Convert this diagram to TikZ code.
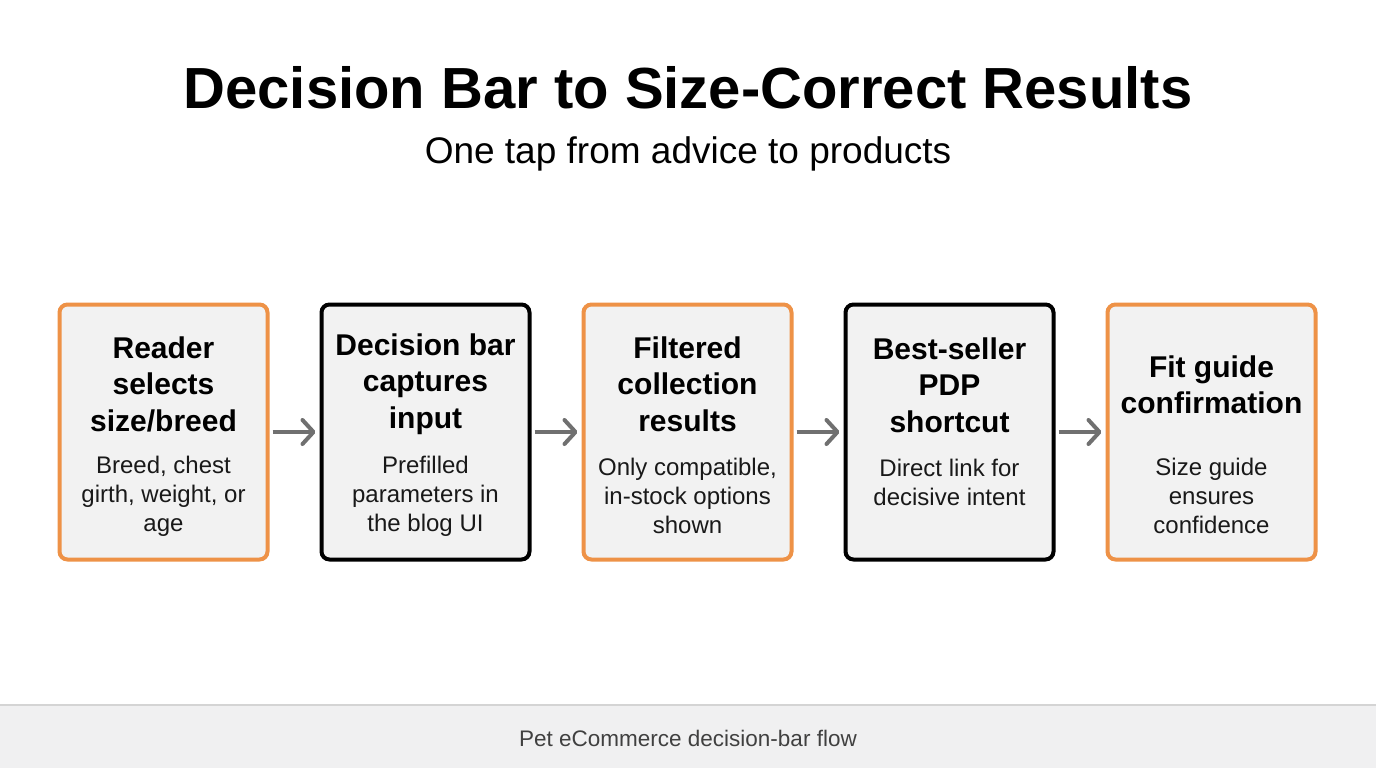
\documentclass[tikz,border=0pt]{standalone}
\usepackage{fontspec}
\setmainfont{Liberation Sans}
\usetikzlibrary{arrows.meta}
\definecolor{orng}{HTML}{EE9247}
\definecolor{boxfill}{HTML}{F2F2F2}
\definecolor{arr}{HTML}{707070}
\definecolor{foot}{HTML}{F0F0F1}
\definecolor{footline}{HTML}{D4D4D4}
\begin{document}
\begin{tikzpicture}[x=1pt,y=-1pt,
  card/.style={draw, line width=4pt, rounded corners=8pt, fill=boxfill, minimum width=208pt, minimum height=255pt, inner sep=0pt},
  orangecard/.style={card, draw=orng},
  blackcard/.style={card, draw=black},
  ttl/.style={font=\fontsize{30}{36.5}\selectfont\bfseries, align=center, inner sep=0pt},
  bdy/.style={font=\fontsize{24}{29}\selectfont, align=center, inner sep=0pt, text=black!90},
  flow/.style={draw=arr, line width=4pt, -{Straight Barb[length=11pt,width=24pt,line cap=round,round]}, shorten <=3pt, shorten >=4pt}
]
\useasboundingbox (0,0) rectangle (1376,768);
\fill[white] (0,0) rectangle (1376,768);
% footer
\fill[foot] (0,705) rectangle (1376,768);
\draw[footline, line width=1.2pt] (0,705) -- (1376,705);
\node[font=\fontsize{22.5}{26}\selectfont, text=black!75] (footer) at (688,738) {Pet eCommerce decision-bar flow};
% title
\node[font=\fontsize{58}{64}\selectfont\bfseries] (title) at (688,88) {Decision Bar to Size-Correct Results};
\node[font=\fontsize{37}{42}\selectfont] (subtitle) at (688,154) {One tap from advice to products};
% cards
\node[orangecard] (c1) at (163.5,432) {};
\node[blackcard]  (c2) at (425.5,432) {};
\node[orangecard] (c3) at (687.5,432) {};
\node[blackcard]  (c4) at (949.5,432) {};
\node[orangecard] (c5) at (1211.5,432) {};
% texts
\node[ttl] (t1) at (163.5,384) {Reader\\selects\\size/breed};
\node[bdy] (b1) at (163.5,496) {Breed, chest\\girth, weight, or\\age};
\node[ttl] (t2) at (425.5,384) {Decision bar\\captures\\input};
\node[bdy] (b2) at (425.5,496) {Prefilled\\parameters in\\the blog UI};
\node[ttl] (t3) at (687.5,384) {Filtered\\collection\\results};
\node[bdy] (b3) at (687.5,496) {Only compatible,\\in-stock options\\shown};
\node[ttl] (t4) at (949.5,385) {Best-seller\\PDP\\shortcut};
\node[bdy] (b4) at (949.5,482) {Direct link for\\decisive intent};
\node[ttl] (t5) at (1211.5,385) {Fit guide\\confirmation};
\node[bdy] (b5) at (1211.5,496) {Size guide\\ensures\\confidence};
% arrows
\draw[flow] (c1.east) -- (c2.west);
\draw[flow] (c2.east) -- (c3.west);
\draw[flow] (c3.east) -- (c4.west);
\draw[flow] (c4.east) -- (c5.west);
\end{tikzpicture}
\end{document}
